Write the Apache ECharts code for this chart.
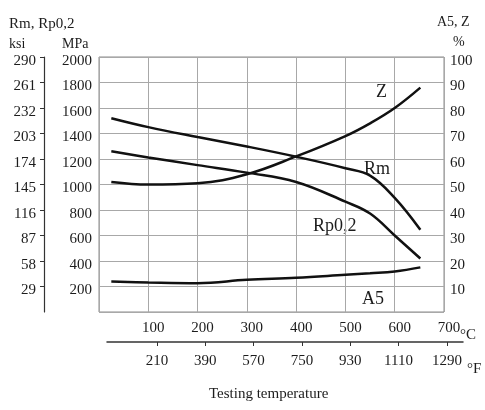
<!DOCTYPE html>
<html>
<head>
<meta charset="utf-8">
<script src="https://cdn.jsdelivr.net/npm/echarts@6.0.0/dist/echarts.min.js"></script>
<style>
  html, body { margin: 0; padding: 0; background: #fff; }
  #chart { width: 485px; height: 410px; }
</style>
</head>
<body>
<div id="chart"></div>
<script>
// temperatures (°C) at which the curves were read
const temps = [25, 100, 200, 300, 400, 500, 550, 600, 652];
// strength, MPa
const rmValues = [1520, 1450, 1372, 1298, 1218, 1128, 1070, 895, 645];
const rp02Values = [1261, 1212, 1152, 1093, 1020, 865, 772, 600, 420];
// ductility, %
const zValues = [51, 50, 50.5, 54, 61, 69, 74, 80, 88];
const a5Values = [12, 11.6, 11.3, 12.6, 13.4, 14.6, 15.2, 15.9, 17.5];
// secondary scale labels
const fahrenheitTicks = [210, 390, 570, 750, 930, 1110, 1290];

const FONT = '"Liberation Serif", "DejaVu Serif", serif';
const INK = '#1c1c1c';
const GRIDC = '#a8a8a8';
const plain = (v) => String(v);

const pairs = (vals) => temps.map((t, i) => [t, vals[i]]);

const lineSeries = (name, vals, yIdx) => ({
  name: name,
  type: 'line',
  xAxisIndex: 0,
  yAxisIndex: yIdx,
  data: pairs(vals),
  smooth: 0.4,
  showSymbol: false,
  lineStyle: { color: '#111', width: 2.5 },
  silent: true
});

// y tick labels sit a few px below their grid lines in the scan
const yLabel = (margin) => ({
  margin: margin, showMinLabel: false, formatter: plain,
  verticalAlign: 'top', lineHeight: 8,
  fontFamily: FONT, fontSize: 15, color: INK
});

const label = (text, x, y, size, align) => ({
  type: 'text',
  left: x,
  top: y,
  style: {
    text: text,
    fontFamily: FONT,
    fontSize: size,
    fill: INK,
    textAlign: align || 'left',
    textVerticalAlign: 'middle'
  }
});

const chart = echarts.init(document.getElementById('chart'));
chart.setOption({
  animation: false,
  backgroundColor: '#fff',
  grid: [
    { left: 99, top: 57, width: 345, height: 255, show: true, borderColor: '#8a8a8a', borderWidth: 1 },
    { left: 107, top: 341, width: 356, height: 1, show: false }
  ],
  xAxis: [
    {
      gridIndex: 0, type: 'value', min: 0, max: 700, interval: 100,
      axisLine: { show: false }, axisTick: { show: false },
      splitLine: { show: true, lineStyle: { color: GRIDC, width: 1 } },
      axisLabel: {
        margin: 9, showMinLabel: false, showMaxLabel: true,
        padding: [0, 0, 0, 10], formatter: plain,
        fontFamily: FONT, fontSize: 15, color: INK
      }
    },
    {
      gridIndex: 1, type: 'value', min: 24, max: 1350,
      axisLine: { show: true, lineStyle: { color: '#333', width: 1.5 } },
      axisTick: { show: true, length: 4, customValues: fahrenheitTicks, lineStyle: { color: '#333' } },
      splitLine: { show: false },
      axisLabel: {
        margin: 12, customValues: fahrenheitTicks, formatter: plain,
        fontFamily: FONT, fontSize: 15, color: INK
      }
    }
  ],
  yAxis: [
    {
      gridIndex: 0, type: 'value', position: 'left', min: 0, max: 2000, interval: 200,
      axisLine: { show: false }, axisTick: { show: false },
      splitLine: { show: true, lineStyle: { color: GRIDC, width: 1 } },
      axisLabel: yLabel(7)
    },
    {
      gridIndex: 0, type: 'value', position: 'right', min: 0, max: 100, interval: 10,
      axisLine: { show: false }, axisTick: { show: false },
      splitLine: { show: false },
      axisLabel: yLabel(6)
    },
    {
      gridIndex: 0, type: 'value', position: 'left', offset: 55, min: 0, max: 290, interval: 29,
      axisLine: { show: true, lineStyle: { color: '#333', width: 1.2 } },
      axisTick: { show: true, length: 4, lineStyle: { color: '#333' } },
      splitLine: { show: false },
      axisLabel: yLabel(8)
    },
    {
      gridIndex: 1, type: 'value', min: 0, max: 1, show: false
    }
  ],
  series: [
    lineSeries('Rm', rmValues, 0),
    lineSeries('Rp0,2', rp02Values, 0),
    lineSeries('Z', zValues, 1),
    lineSeries('A5', a5Values, 1)
  ],
  graphic: [
    label('Rm, Rp0,2', 9, 17, 15),
    label('ksi', 9, 37, 14),
    label('MPa', 62, 37, 14),
    label('A5, Z', 437, 15, 14),
    label('%', 453, 35, 14),
    label('Z', 376, 83, 18),
    label('Rm', 364, 160, 18),
    label('Rp0,2', 313, 217, 18),
    label('A5', 362, 290, 18),
    label('°C', 460, 328, 15),
    label('°F', 467, 362, 15),
    label('Testing temperature', 209, 387, 15)
  ]
});
</script>
</body>
</html>
